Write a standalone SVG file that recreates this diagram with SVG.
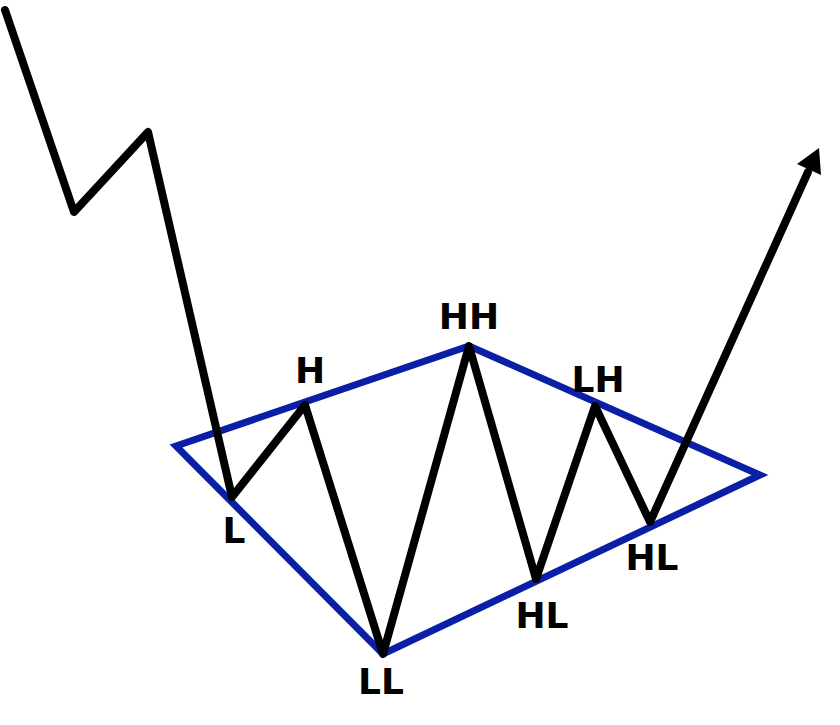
<svg xmlns="http://www.w3.org/2000/svg" width="840" height="725" viewBox="0 0 840 725">
<style>
.price{fill:none;stroke:#000;stroke-width:8;stroke-linejoin:round;stroke-linecap:round}
.diamond{fill:none;stroke:#0b1fa6;stroke-width:7;stroke-linejoin:miter}
.lbl{font-family:"DejaVu Sans",sans-serif;font-weight:bold;font-size:36px;fill:#000;text-anchor:middle}
</style>
<rect width="840" height="725" fill="#fff"/>
<g id="connectors">
<polygon id="diamond" class="diamond" points="176,446 469,346 760,475 383,654"/>
<polyline id="price" class="price" points="5,10 74,212 148,132 232,497 305,405 383,654 469,346 536,579 595,406 650,522 808,172"/>
<polygon id="arrowhead" points="819,148 797,164 821,175" fill="#000"/>
</g>
<g id="labels">
<g id="n-L"><text class="lbl" x="234" y="543">L</text></g>
<g id="n-H"><text class="lbl" x="310" y="383">H</text></g>
<g id="n-LL"><text class="lbl" x="381" y="694">LL</text></g>
<g id="n-HH"><text class="lbl" x="469" y="329">HH</text></g>
<g id="n-HL1"><text class="lbl" x="542" y="628">HL</text></g>
<g id="n-LH"><text class="lbl" x="598" y="392">LH</text></g>
<g id="n-HL2"><text class="lbl" x="652" y="570">HL</text></g>
</g>
</svg>
